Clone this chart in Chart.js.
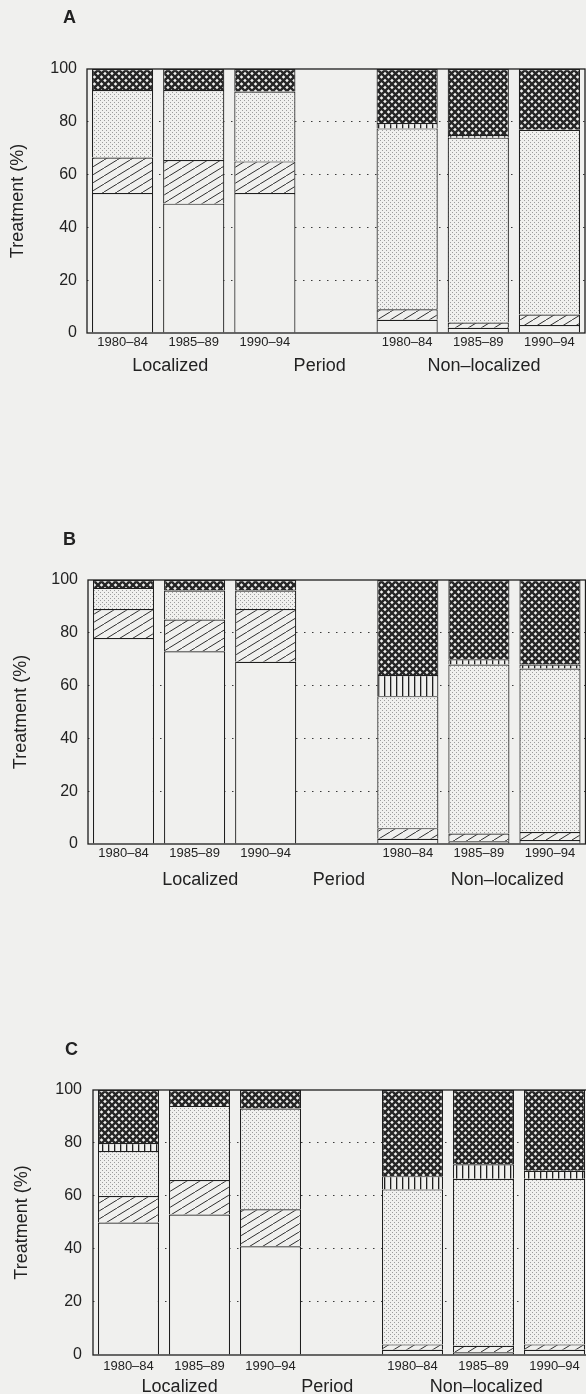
<!DOCTYPE html>
<html>
<head>
<meta charset="utf-8">
<script src="https://cdn.jsdelivr.net/npm/chart.js@4.4.1/dist/chart.umd.min.js"></script>
<style>
  html, body { margin: 0; padding: 0; background: #f0f0ee; width: 586px; height: 1394px; overflow: hidden; }
  canvas { position: absolute; left: 0; }
</style>
</head>
<body>
<canvas id="chartA" width="600" height="400" style="top:0px"></canvas>
<canvas id="chartB" width="600" height="420" style="top:480px"></canvas>
<canvas id="chartC" width="600" height="394" style="top:1000px"></canvas>
<script>
const periods = ["1980–84", "1985–89", "1990–94", "", "1980–84", "1985–89", "1990–94"];
const groups = ["Localized", "Period", "Non–localized"];
const treatments = ["Plain", "Hatched", "Dotted", "Vertical lines", "Cross-hatched"];

// panel A (bottom to top segments, % of cases)
const plainA = [53, 49, 53, null, 5, 2, 3];
const hatchA = [13.5, 16.5, 12, null, 4, 2, 4];
const dotsA  = [25.5, 26.5, 26.5, null, 68.5, 70, 70];
const vertA  = [0, 0, 0, null, 2, 1, 0];
const crossA = [8, 8, 8.5, null, 20.5, 25, 23];

// panel B
const plainB = [78, 73, 69, null, 2, 1, 1.5];
const hatchB = [11, 12, 20, null, 4, 3, 3];
const dotsB  = [8, 11, 7, null, 50, 64, 62];
const vertB  = [0, 0, 0, null, 8, 2, 1.5];
const crossB = [3, 4, 4, null, 36, 30, 32];

// panel C
const plainC = [50, 53, 41, null, 2, 1, 2];
const hatchC = [10, 13, 14, null, 2, 2.5, 2];
const dotsC  = [17, 28, 38, null, 58.5, 63, 62.5];
const vertC  = [3, 0, 0, null, 5, 5.5, 3];
const crossC = [20, 6, 7, null, 32.5, 28, 30.5];

const BG = "#f0f0ee";
const INK = "#1e1e1e";
Chart.defaults.font.family = '"Liberation Sans", Arial, sans-serif';

// pattern tiles
function tile(w, h, draw) {
  const c = document.createElement("canvas");
  c.width = w;
  c.height = h;
  const g = c.getContext("2d");
  g.fillStyle = BG;
  g.fillRect(0, 0, w, h);
  draw(g, w, h);
  return g.createPattern(c, "repeat");
}

const fills = [
  BG,
  tile(13, 8, (g, w, h) => {
    g.strokeStyle = "#2e2e2e";
    g.lineWidth = 1;
    g.beginPath();
    g.moveTo(-2, h + 2 * h / w);
    g.lineTo(w + 2, -2 * h / w);
    g.stroke();
  }),
  tile(4, 4, (g) => {
    g.fillStyle = "#9c9c9c";
    g.fillRect(0, 0, 1, 1);
    g.fillRect(2, 2, 1, 1);
  }),
  tile(6, 4, (g, w, h) => {
    g.fillStyle = "#1e1e1e";
    g.fillRect(0, 0, 1.3, h);
  }),
  tile(7, 7, (g) => {
    g.strokeStyle = "#262626";
    g.lineWidth = 2.4;
    g.beginPath();
    g.moveTo(-1, -1); g.lineTo(8, 8);
    g.moveTo(8, -1); g.lineTo(-1, 8);
    g.stroke();
  }),
];

// frame, group labels and panel letter
const panelDecor = {
  id: "panelDecor",
  afterDraw(chart, args, opts) {
    const { ctx, chartArea: a } = chart;
    const x = chart.scales.x;
    ctx.save();
    ctx.strokeStyle = INK;
    ctx.lineWidth = 1.3;
    ctx.strokeRect(a.left, a.top, a.right - a.left, a.bottom - a.top);
    ctx.fillStyle = "#222";
    ctx.textAlign = "center";
    ctx.textBaseline = "middle";
    ctx.font = '18px "Liberation Sans", Arial, sans-serif';
    groups.forEach((g, i) => {
      ctx.fillText(g, x.getPixelForValue(opts.groupAt[i]), a.bottom + opts.groupDy);
    });
    ctx.textAlign = "left";
    ctx.font = 'bold 18px "Liberation Sans", Arial, sans-serif';
    ctx.fillText(opts.letter, opts.letterX, opts.letterY);
    ctx.restore();
  },
};

function makeChart(id, series, lay) {
  return new Chart(document.getElementById(id), {
    type: "bar",
    data: {
      labels: periods,
      datasets: series.map((d, i) => ({
        label: treatments[i],
        data: d,
        backgroundColor: fills[i],
        borderColor: INK,
        borderWidth: { top: 1.2, left: 1.2, right: 1.2, bottom: 0 },
        borderSkipped: false,
        categoryPercentage: 1,
        barPercentage: 0.86,
      })),
    },
    options: {
      responsive: false,
      animation: false,
      devicePixelRatio: 1,
      layout: { padding: { top: lay.top, right: lay.right, bottom: lay.bottom, left: 0 } },
      plugins: {
        legend: { display: false },
        tooltip: { enabled: false },
        panelDecor: lay,
      },
      scales: {
        x: {
          stacked: true,
          grid: { display: false, drawTicks: false },
          border: { display: false },
          ticks: { color: "#222", font: { size: 13 }, padding: lay.xPad, maxRotation: 0, autoSkip: false },
          afterFit: (s) => { s.height = lay.xHeight; },
        },
        y: {
          stacked: true,
          min: 0,
          max: 100,
          ticks: { stepSize: 20, color: "#222", font: { size: 16 }, padding: lay.yPad },
          grid: {
            drawTicks: false,
            lineWidth: 1.1,
            color: (c) => (c.tick.value > 0 && c.tick.value < 100 ? "#3a3a3a" : "rgba(0,0,0,0)"),
          },
          border: { display: false, dash: [1.5, 6.5] },
          title: {
            display: true,
            text: "Treatment (%)",
            color: "#222",
            font: { size: 18 },
            padding: { top: lay.titlePad, bottom: 0 },
          },
          afterFit: (s) => { s.width = lay.left; },
        },
      },
    },
    plugins: [panelDecor],
  });
}

makeChart("chartA", [plainA, hatchA, dotsA, vertA, crossA], {
  top: 69, right: 15, bottom: 17, left: 87, xHeight: 50, xPad: 2, yPad: 10, titlePad: 7,
  letter: "A", letterX: 63, letterY: 18, groupAt: [0.67, 2.77, 5.08], groupDy: 33,
});
makeChart("chartB", [plainB, hatchB, dotsB, vertB, crossB], {
  top: 100, right: 14.5, bottom: 6, left: 88, xHeight: 50, xPad: 2, yPad: 10, titlePad: 10,
  letter: "B", letterX: 63, letterY: 60, groupAt: [1.08, 3.03, 5.4], groupDy: 36,
});
makeChart("chartC", [plainC, hatchC, dotsC, vertC, crossC], {
  top: 90, right: 10, bottom: 0, left: 93, xHeight: 39, xPad: 4, yPad: 11, titlePad: 11,
  letter: "C", letterX: 65, letterY: 50, groupAt: [0.72, 2.8, 5.04], groupDy: 32,
});
</script>
</body>
</html>
